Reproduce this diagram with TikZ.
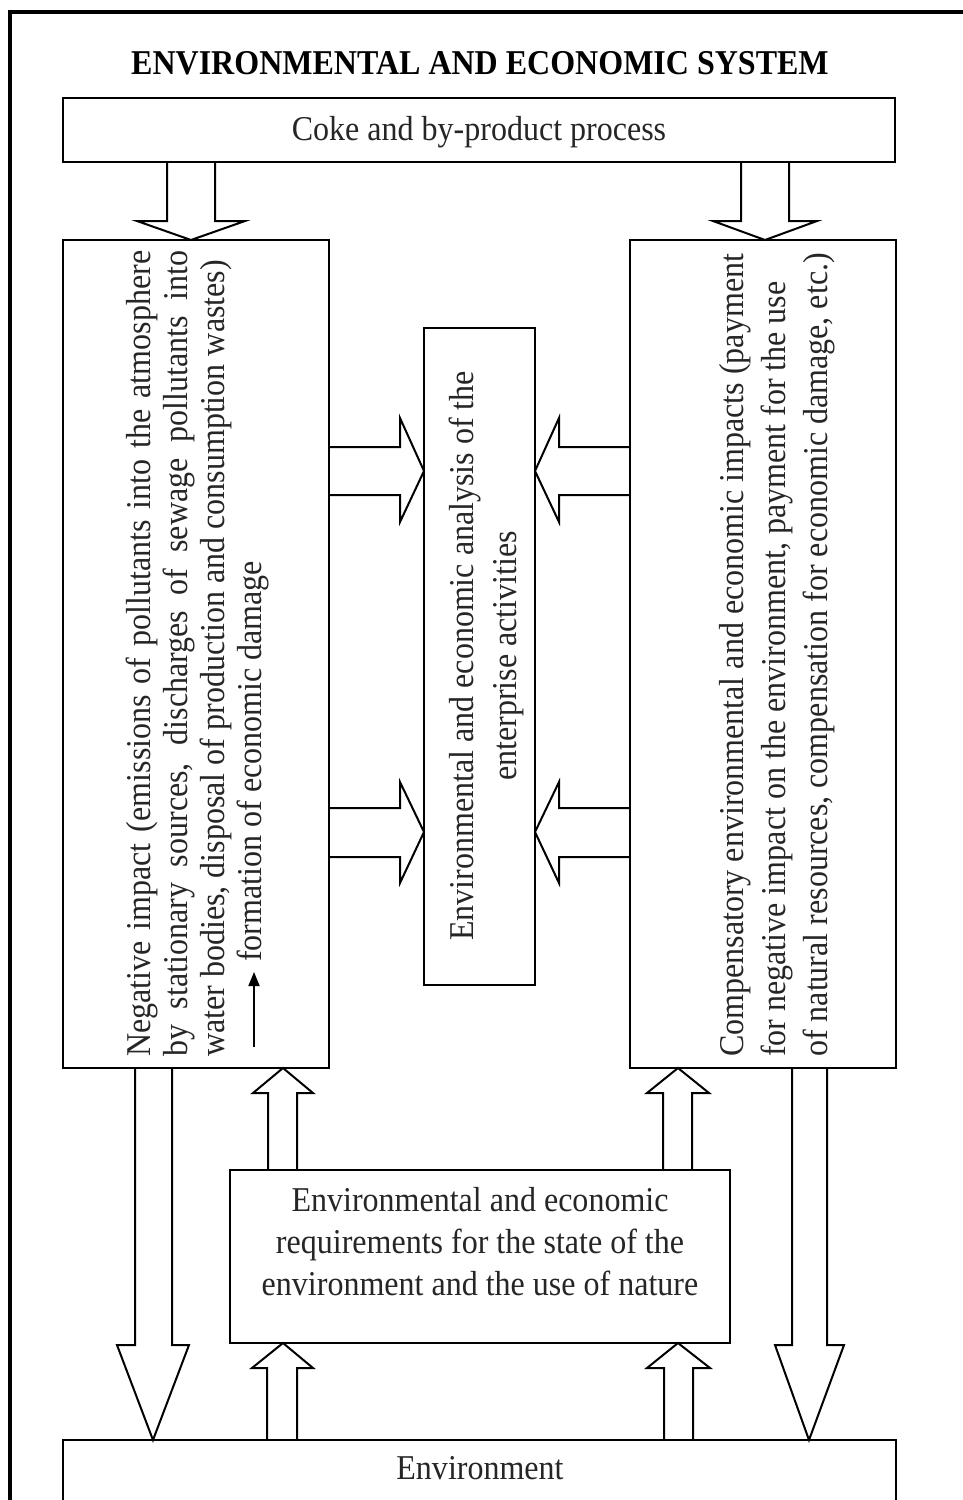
\documentclass[tikz,border=0pt]{standalone}
\usepackage{fontspec}
\setmainfont[FakeStretch=0.92]{Liberation Serif}
\usetikzlibrary{arrows.meta}
\begin{document}
\begin{tikzpicture}[x=1pt,y=-1pt,
  box/.style={draw, line width=2.6pt, inner sep=0pt, outer sep=0pt, anchor=north west},
  blockarrow/.style={draw, line width=2pt, line join=miter, fill=white},
  txt/.style={font=\fontsize{34.8}{40}\selectfont, inner sep=0pt, text=black!85},
  ttl/.style={font=\bfseries\fontsize{34.8}{40}\selectfont, inner sep=0pt, text=black},
  rtxt/.style={txt, rotate=90, anchor=base west}
]
\useasboundingbox (0,0) rectangle (963,1500);
\clip (0,0) rectangle (963,1500);
\fill[white] (0,0) rectangle (963,1500);
% outer frame
\draw[line width=4pt] (1000,12) -- (10,12) -- (10,1540);

% block arrows
% top -> left / right
\draw[blockarrow] (167,162) -- (167,221) -- (137,221) -- (191,240) -- (245,221) -- (215,221) -- (215,162);
\draw[blockarrow] (741,162) -- (741,221) -- (713,221) -- (765,240) -- (817,221) -- (789,221) -- (789,162);
% left -> centre
\draw[blockarrow] (329,447) -- (400,447) -- (400,418) -- (424,471) -- (400,522) -- (400,495) -- (329,495);
\draw[blockarrow] (329,808) -- (400,808) -- (400,782) -- (424,832) -- (400,883) -- (400,857) -- (329,857);
% right -> centre
\draw[blockarrow] (630,447) -- (559,447) -- (559,418) -- (535,471) -- (559,522) -- (559,495) -- (630,495);
\draw[blockarrow] (630,808) -- (559,808) -- (559,782) -- (535,832) -- (559,883) -- (559,857) -- (630,857);
% left / right -> environment
\draw[blockarrow] (135,1068) -- (135,1345) -- (117,1345) -- (153,1440) -- (189,1345) -- (172,1345) -- (172,1068);
\draw[blockarrow] (792,1068) -- (792,1345) -- (775,1345) -- (809,1440) -- (844,1345) -- (827,1345) -- (827,1068);
% requirements -> left / right
\draw[blockarrow] (268,1170) -- (268,1093) -- (253,1093) -- (283,1068) -- (313,1093) -- (297,1093) -- (297,1170);
\draw[blockarrow] (663,1170) -- (663,1093) -- (647,1093) -- (678,1068) -- (709,1093) -- (692,1093) -- (692,1170);
% environment -> requirements
\draw[blockarrow] (267,1440) -- (267,1368) -- (252,1368) -- (283,1343) -- (313,1368) -- (297,1368) -- (297,1440);
\draw[blockarrow] (664,1440) -- (664,1368) -- (647,1368) -- (678,1343) -- (710,1368) -- (693,1368) -- (693,1440);

% boxes
\node[box, minimum width=832pt, minimum height=64pt] (top) at (63,98) {};
\node[box, minimum width=266pt, minimum height=828pt] (left) at (63,240) {};
\node[box, minimum width=266pt, minimum height=828pt] (right) at (630,240) {};
\node[box, minimum width=111pt, minimum height=657pt] (centre) at (424,328) {};
\node[box, minimum width=500pt, minimum height=173pt] (req) at (230,1170) {};
\node[box, minimum width=833pt, minimum height=100pt] (env) at (63,1440) {};

% texts
\node[ttl, anchor=base] (title) at (480,74) {ENVIRONMENTAL AND ECONOMIC SYSTEM};
\node[txt, anchor=base] (toptxt) at (479,140) {Coke and by-product process};

\node[rtxt] (l1) at (150,1057) {\makebox[806pt][s]{Negative impact (emissions of pollutants into the atmosphere}};
\node[rtxt] (l2) at (187,1057) {\makebox[806pt][s]{by stationary sources, discharges of sewage pollutants into}};
\node[rtxt] (l3) at (224,1057) {water bodies, disposal of production and consumption wastes)};
\coordinate (arrA) at (254,1047);
\coordinate (arrB) at (254,972);
\draw[line width=1.8pt, -{Triangle[length=14pt,width=11pt]}] (arrA) -- (arrB);
\node[rtxt] (l4) at (261,962) {formation of economic damage};

\node[rtxt] (r1) at (743,1057) {Compensatory environmental and economic impacts (payment};
\node[rtxt] (r2) at (785,1057) {for negative impact on the environment, payment for the use};
\node[rtxt] (r3) at (827,1057) {of natural resources, compensation for economic damage, etc.)};

\node[txt, rotate=90, anchor=base] (c1) at (473,656) {Environmental and economic analysis of the};
\node[txt, rotate=90, anchor=base] (c2) at (516,656) {enterprise activities};

\node[txt, anchor=base] (q1) at (480,1211) {Environmental and economic};
\node[txt, anchor=base] (q2) at (480,1253) {requirements for the state of the};
\node[txt, anchor=base] (q3) at (480,1295) {environment and the use of nature};

\node[txt, anchor=base] (envtxt) at (480,1479) {Environment};
\end{tikzpicture}
\end{document}
